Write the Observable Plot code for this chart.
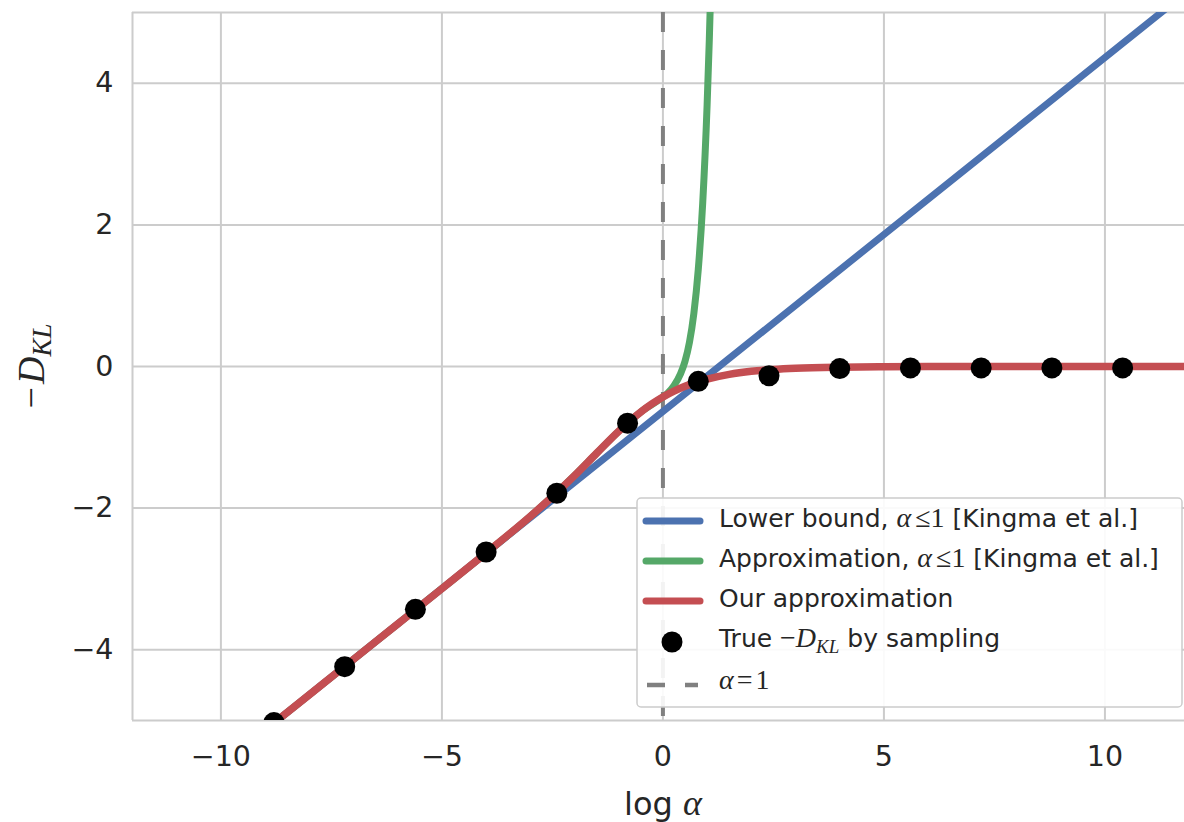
<!DOCTYPE html>
<html>
<head>
<meta charset="utf-8">
<script src="https://cdn.jsdelivr.net/npm/d3@7"></script>
<script src="https://cdn.jsdelivr.net/npm/@observablehq/plot@0.6"></script>
<style>
  html, body { margin: 0; padding: 0; background: white; overflow: hidden; }
  #chart svg { display: block; }
</style>
</head>
<body>
<div id="chart"></div>
<script>
// ---- data ----
const xTicks = [-10, -5, 0, 5, 10];
const yTicks = [-4, -2, 0, 2, 4];

// Lower bound (straight line)
const blueX = [-12, 12];
const blueY = [-6.636, 5.364];

// Kingma approximation (hidden under the red curve for log α < 0)
const greenX = [-12, -10, -8, -6, -5, -4, -3, -2, -1.5, -1, -0.5, 0, 0.1, 0.25, 0.4, 0.5, 0.6, 0.7, 0.8, 0.9, 1.0, 1.05, 1.1];
const greenY = [-6.636, -5.636, -4.636, -3.637, -3.137, -2.634, -2.116, -1.541, -1.225, -0.914, -0.642, -0.431, -0.380, -0.270, -0.100, 0.074, 0.340, 0.750, 1.372, 2.308, 3.699, 4.624, 5.743];

// Our approximation
const redX = [-12, -10, -9, -8, -7, -6, -5, -4, -3.5, -3, -2.5, -2, -1.5, -1, -0.5, -0.25, 0, 0.25, 0.5, 0.75, 1, 1.5, 2, 2.5, 3, 4, 5, 6, 8, 10, 12];
const redY = [-6.636, -5.636, -5.136, -4.636, -4.136, -3.637, -3.137, -2.634, -2.379, -2.116, -1.838, -1.541, -1.225, -0.914, -0.642, -0.529, -0.431, -0.349, -0.280, -0.224, -0.178, -0.111, -0.068, -0.042, -0.025, -0.009, -0.003, -0.001, 0, 0, 0];

// True -D_KL by sampling
const dotX = [-8.8, -7.2, -5.6, -4.0, -2.4, -0.8, 0.8, 2.4, 4.0, 5.6, 7.2, 8.8, 10.4];
const dotY = [-5.03, -4.24, -3.43, -2.62, -1.79, -0.80, -0.21, -0.13, -0.03, -0.02, -0.02, -0.02, -0.02];

const blue = blueX.map((x, i) => ({x, y: blueY[i]}));
const green = greenX.map((x, i) => ({x, y: greenY[i]}));
const red = redX.map((x, i) => ({x, y: redY[i]}));
const dots = dotX.map((x, i) => ({x, y: dotY[i]}));

const C_BLUE = "#4c72b0", C_GREEN = "#55a868", C_RED = "#c44e52", C_GRID = "#cccccc", C_TEXT = "#262626";
const fmt = d => d < 0 ? "\u2212" + Math.abs(d) : String(d);

const chart = Plot.plot({
  width: 1184,
  height: 822,
  marginLeft: 132,
  marginRight: 0,
  marginTop: 12,
  marginBottom: 102,
  x: {domain: [-12, 11.8]},
  y: {domain: [-5, 5]},
  style: {fontFamily: "DejaVu Sans", color: C_TEXT, background: "white"},
  marks: [
    Plot.gridX(xTicks, {stroke: C_GRID, strokeOpacity: 1, strokeWidth: 2}),
    Plot.gridY(yTicks, {stroke: C_GRID, strokeOpacity: 1, strokeWidth: 2}),
    Plot.ruleY([-5, 5], {stroke: C_GRID, strokeWidth: 2}),
    Plot.ruleX([-12], {stroke: C_GRID, strokeWidth: 2}),
    Plot.ruleX([0], {stroke: "#808080", strokeWidth: 4, strokeDasharray: "20,18"}),
    Plot.line(blue, {x: "x", y: "y", stroke: C_BLUE, strokeWidth: 7, clip: true}),
    Plot.line(green, {x: "x", y: "y", stroke: C_GREEN, strokeWidth: 7, curve: "monotone-x", clip: true}),
    Plot.line(red, {x: "x", y: "y", stroke: C_RED, strokeWidth: 7.5, curve: "monotone-x", clip: true}),
    Plot.dot(dots, {x: "x", y: "y", r: 10.5, fill: "black", stroke: "none", clip: true}),
    Plot.axisX(xTicks, {tickSize: 0, tickPadding: 25, fontSize: 28.5, tickFormat: fmt, label: null}),
    Plot.axisY(yTicks, {tickSize: 0, tickPadding: 19, fontSize: 28.5, tickFormat: fmt, label: null})
  ]
});
document.getElementById("chart").appendChild(chart);

const svg = d3.select(chart);
const SERIF = "'Liberation Serif', 'DejaVu Serif', serif";

// y label  -D_KL
const yl = svg.append("text")
  .attr("transform", "translate(44,366) rotate(-90)")
  .attr("text-anchor", "middle")
  .attr("fill", C_TEXT)
  .attr("font-family", SERIF)
  .attr("font-size", 38);
yl.append("tspan").text("\u2212");
yl.append("tspan").attr("font-style", "italic").attr("dx", 3).text("D");
yl.append("tspan").attr("font-style", "italic").attr("font-size", 27).attr("dy", 7).text("KL");

// x label  log α
const xl = svg.append("text")
  .attr("x", 663).attr("y", 815)
  .attr("text-anchor", "middle")
  .attr("fill", C_TEXT)
  .attr("font-family", "DejaVu Sans")
  .attr("font-size", 32);
xl.append("tspan").text("log ");
xl.append("tspan").attr("font-family", SERIF).attr("font-style", "italic").attr("font-size", 36).text("\u03b1");

// legend
const lg = svg.append("g").attr("text-anchor", "start");
lg.append("rect")
  .attr("x", 637).attr("y", 498).attr("width", 545).attr("height", 209)
  .attr("rx", 4).attr("fill", "white").attr("fill-opacity", 0.9)
  .attr("stroke", C_GRID).attr("stroke-width", 1.5);

const rows = [
  {base: 527, kind: "line", color: C_BLUE},
  {base: 567, kind: "line", color: C_GREEN},
  {base: 607, kind: "line", color: C_RED},
  {base: 647, kind: "dot"},
  {base: 687, kind: "dash"}
];
rows.forEach(r => {
  if (r.kind === "line") {
    lg.append("line").attr("x1", 646).attr("x2", 700).attr("y1", r.base - 6).attr("y2", r.base - 6)
      .attr("stroke", r.color).attr("stroke-width", 7).attr("stroke-linecap", "round");
  } else if (r.kind === "dot") {
    lg.append("circle").attr("cx", 672).attr("cy", r.base - 5).attr("r", 10.5).attr("fill", "black");
  } else {
    lg.append("line").attr("x1", 647).attr("x2", 698).attr("y1", r.base - 2).attr("y2", r.base - 2)
      .attr("stroke", "#808080").attr("stroke-width", 4.5).attr("stroke-dasharray", "18,20");
  }
});

function legendText(y) {
  return lg.append("text").attr("x", 719).attr("y", y)
    .attr("text-anchor", "start")
    .attr("fill", C_TEXT).attr("font-family", "DejaVu Sans").attr("font-size", 25);
}
function mathAlphaLe1(t) {
  t.append("tspan").attr("font-family", SERIF).attr("font-style", "italic").attr("font-size", 28).text("\u03b1");
  t.append("tspan").attr("font-family", SERIF).attr("font-size", 28).attr("dx", 4).text("\u2264");
  t.append("tspan").attr("font-family", SERIF).attr("font-size", 28).text("1");
}
let t = legendText(527);
t.append("tspan").text("Lower bound, ");
mathAlphaLe1(t);
t.append("tspan").text(" [Kingma et al.]");

t = legendText(567);
t.append("tspan").text("Approximation, ");
mathAlphaLe1(t);
t.append("tspan").text(" [Kingma et al.]");

t = legendText(607);
t.append("tspan").text("Our approximation");

t = legendText(647);
t.append("tspan").text("True ");
t.append("tspan").attr("font-family", SERIF).attr("font-size", 28).text("\u2212");
t.append("tspan").attr("font-family", SERIF).attr("font-style", "italic").attr("font-size", 28).text("D");
t.append("tspan").attr("font-family", SERIF).attr("font-style", "italic").attr("font-size", 19).attr("dy", 6).text("KL");
t.append("tspan").attr("dy", -6).text(" by sampling");

t = legendText(689);
t.append("tspan").attr("font-family", SERIF).attr("font-style", "italic").attr("font-size", 28).text("\u03b1");
t.append("tspan").attr("font-family", SERIF).attr("font-size", 28).attr("dx", 3).text("=");
t.append("tspan").attr("font-family", SERIF).attr("font-size", 28).attr("dx", 3).text("1");
</script>
</body>
</html>
